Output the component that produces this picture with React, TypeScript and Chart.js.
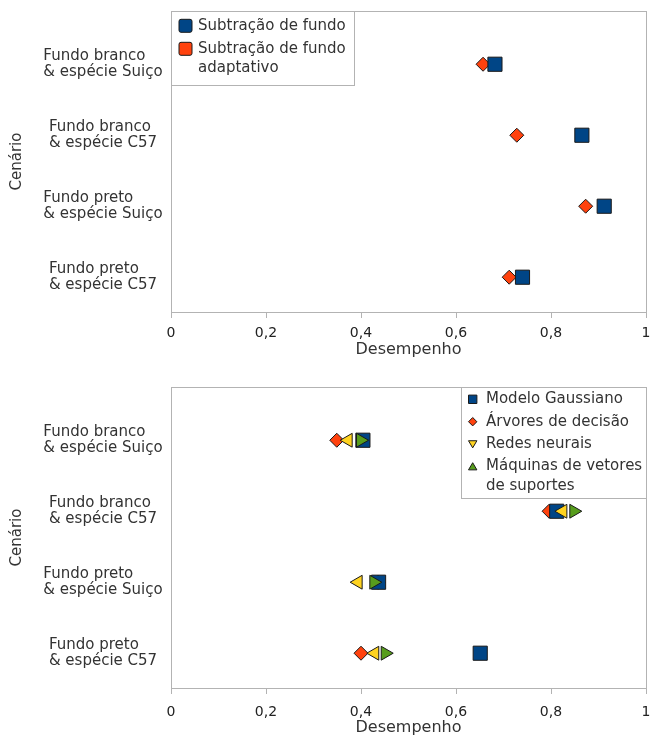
import React, { useEffect, useRef } from 'react';
import { Chart, registerables } from 'chart.js';

Chart.register(...registerables);

const FONT = '"DejaVu Sans", sans-serif';
Chart.defaults.font.family = FONT;

// ---------- data ----------
const categories: string[][] = [
  ['Fundo branco', '& espécie Suiço'],
  ['Fundo branco', '& espécie C57'],
  ['Fundo preto', '& espécie Suiço'],
  ['Fundo preto', '& espécie C57'],
];
const xTickLabels = ['0', '0,2', '0,4', '0,6', '0,8', '1'];
const xTitle = 'Desempenho';
const yTitle = 'Cenário';

// top chart
const subtracaoFundo = [0.682, 0.865, 0.912, 0.74];
const subtracaoAdaptativo = [0.657, 0.728, 0.873, 0.712];

// bottom chart
const modeloGaussiano = [0.404, 0.812, 0.437, 0.651];
const arvoresDecisao = [0.349, 0.796, 0.436, 0.4];
const redesNeurais = [0.373, 0.825, 0.394, 0.429];
const maquinasVetores = [0.399, 0.848, 0.427, 0.451];

const topLegendLabels = [['Subtração de fundo'], ['Subtração de fundo', 'adaptativo']];
const bottomLegendLabels = [
  ['Modelo Gaussiano'],
  ['Árvores de decisão'],
  ['Redes neurais'],
  ['Máquinas de vetores', 'de suportes'],
];

// ---------- styles ----------
const BLUE = '#004586';
const ORANGE = '#ff420e';
const YELLOW = '#ffd320';
const GREEN = '#579d1c';
const EDGE = '#1a1a1a';
const FRAME = '#b3b3b3';
const TEXT = '#333333';

const toPoints = (vals: number[]) => vals.map((x, i) => ({ x, y: categories.length - i }));

function drawMarker(ctx: CanvasRenderingContext2D, shape: string, x: number, y: number, s: number, fill: string) {
  ctx.beginPath();
  if (shape === 'roundSquare') {
    if ((ctx as any).roundRect) (ctx as any).roundRect(x - s, y - s, 2 * s, 2 * s, 2);
    else ctx.rect(x - s, y - s, 2 * s, 2 * s);
  } else if (shape === 'square') {
    ctx.rect(x - s, y - s, 2 * s, 2 * s);
  } else if (shape === 'diamond') {
    ctx.moveTo(x, y - s);
    ctx.lineTo(x + s, y);
    ctx.lineTo(x, y + s);
    ctx.lineTo(x - s, y);
    ctx.closePath();
  } else if (shape === 'triDown') {
    ctx.moveTo(x - s, y - s * 0.8);
    ctx.lineTo(x + s, y - s * 0.8);
    ctx.lineTo(x, y + s * 0.9);
    ctx.closePath();
  } else if (shape === 'triUp') {
    ctx.moveTo(x, y - s * 0.9);
    ctx.lineTo(x + s, y + s * 0.8);
    ctx.lineTo(x - s, y + s * 0.8);
    ctx.closePath();
  }
  ctx.fillStyle = fill;
  ctx.fill();
  ctx.strokeStyle = EDGE;
  ctx.lineWidth = 1;
  ctx.stroke();
}

const framePlugin = {
  id: 'frame',
  beforeDatasetsDraw(chart: any) {
    const { ctx, chartArea } = chart;
    ctx.save();
    ctx.strokeStyle = FRAME;
    ctx.lineWidth = 1;
    ctx.strokeRect(
      Math.round(chartArea.left) + 0.5,
      Math.round(chartArea.top) + 0.5,
      Math.round(chartArea.right - chartArea.left),
      Math.round(chartArea.bottom - chartArea.top)
    );
    ctx.restore();
  },
};

const yLabelPlugin = {
  id: 'yLabels',
  afterDraw(chart: any, _args: any, opts: any) {
    const { ctx, chartArea } = chart;
    const scale = chart.scales.y;
    ctx.save();
    ctx.font = `15px ${FONT}`;
    ctx.fillStyle = TEXT;
    ctx.textBaseline = 'middle';
    ctx.textAlign = 'left';
    categories.forEach((lines, i) => {
      const yc = scale.getPixelForValue(categories.length - i);
      let maxW = 0;
      lines.forEach((l) => (maxW = Math.max(maxW, ctx.measureText(l).width)));
      const x0 = chartArea.left - opts.centerOffset - maxW / 2;
      const n = lines.length;
      lines.forEach((l, j) => ctx.fillText(l, x0, yc + (j - (n - 1) / 2) * opts.lineHeight));
    });
    ctx.restore();
  },
};

const boxLegendPlugin = {
  id: 'boxLegend',
  afterDraw(chart: any, _args: any, opts: any) {
    if (!opts || !opts.items) return;
    const { ctx, chartArea } = chart;
    ctx.save();
    ctx.font = `15px ${FONT}`;
    let maxW = 0;
    opts.items.forEach((it: any) => it.lines.forEach((l: string) => (maxW = Math.max(maxW, ctx.measureText(l).width))));
    const w = Math.round(opts.textOffset + maxW + opts.padRight);
    const centers: number[][] = [];
    let cy = opts.padTop;
    opts.items.forEach((it: any, k: number) => {
      if (k > 0) cy += opts.itemGap;
      const arr: number[] = [];
      it.lines.forEach((_l: string, j: number) => {
        if (j > 0) cy += opts.lineGap;
        arr.push(cy);
      });
      centers.push(arr);
    });
    const h = Math.round(cy + opts.padBottom);
    const left = opts.anchor === 'right' ? Math.round(chartArea.right) - w : Math.round(chartArea.left);
    const top = Math.round(chartArea.top);
    ctx.fillStyle = '#ffffff';
    ctx.fillRect(left, top, w, h);
    ctx.strokeStyle = FRAME;
    ctx.lineWidth = 1;
    ctx.strokeRect(left + 0.5, top + 0.5, w, h);
    ctx.textBaseline = 'middle';
    ctx.textAlign = 'left';
    opts.items.forEach((it: any, k: number) => {
      drawMarker(ctx, it.shape, left + opts.markerOffset, top + centers[k][0] + (opts.markerDy || 0), opts.markerSize, it.color);
      ctx.fillStyle = TEXT;
      it.lines.forEach((l: string, j: number) => ctx.fillText(l, left + opts.textOffset, top + centers[k][j]));
    });
    ctx.restore();
  },
};

function makeConfig(datasets: any[], legend: any, tickPad: number, titlePad: number) {
  return {
    type: 'scatter',
    data: { datasets },
    plugins: [framePlugin, yLabelPlugin, boxLegendPlugin],
    options: {
      responsive: false,
      animation: false,
      events: [],
      layout: { autoPadding: false, padding: { top: 11, right: 7, left: 0, bottom: 0 } },
      plugins: {
        legend: { display: false },
        tooltip: { enabled: false },
        yLabels: { centerOffset: 68, lineHeight: 16 },
        boxLegend: legend,
      },
      scales: {
        x: {
          type: 'linear',
          position: 'bottom',
          min: 0,
          max: 1,
          ticks: {
            stepSize: 0.2,
            callback: (_v: any, i: number) => xTickLabels[i],
            font: { size: 14 },
            color: '#222222',
            padding: tickPad,
            maxRotation: 0,
          },
          grid: { display: true, drawOnChartArea: false, drawTicks: true, tickLength: 6, color: FRAME },
          border: { display: true, color: FRAME },
          title: {
            display: true,
            text: xTitle,
            font: { size: 16 },
            color: TEXT,
            padding: { top: 0, bottom: titlePad },
          },
          afterFit: (s: any) => {
            s.height = 57;
            s.paddingLeft = 0;
            s.paddingRight = 0;
          },
        },
        y: {
          type: 'linear',
          min: 0.51,
          max: 4.75,
          ticks: { display: false },
          grid: { display: false },
          border: { display: false },
          title: {
            display: true,
            text: yTitle,
            font: { size: 15 },
            color: TEXT,
            padding: { top: 8.5, bottom: 0 },
          },
          afterFit: (s: any) => {
            s.width = 171;
            s.paddingTop = 0;
            s.paddingBottom = 0;
          },
        },
      },
    },
  };
}

function ds(label: string, vals: number[], color: string, style: string, radius: number, rotation: number, order: number) {
  return {
    label,
    data: toPoints(vals),
    pointStyle: style,
    pointRadius: radius,
    pointHoverRadius: radius,
    pointRotation: rotation,
    pointBackgroundColor: color,
    pointBorderColor: EDGE,
    pointBorderWidth: 1,
    backgroundColor: color,
    borderColor: EDGE,
    showLine: false,
    order,
  };
}

export default function App() {
  const topRef = useRef<HTMLCanvasElement>(null);
  const botRef = useRef<HTMLCanvasElement>(null);

  useEffect(() => {
    const topDatasets = [
      ds(topLegendLabels[0].join(' '), subtracaoFundo, BLUE, 'rect', 10, 0, 1),
      ds(topLegendLabels[1].join(' '), subtracaoAdaptativo, ORANGE, 'rectRot', 7, 0, 2),
    ];
    const botDatasets = [
      ds(bottomLegendLabels[0].join(' '), modeloGaussiano, BLUE, 'rect', 10, 0, 3),
      ds(bottomLegendLabels[1].join(' '), arvoresDecisao, ORANGE, 'rectRot', 7, 0, 4),
      ds(bottomLegendLabels[2].join(' '), redesNeurais, YELLOW, 'triangle', 8, -90, 2),
      ds(bottomLegendLabels[3].join(' '), maquinasVetores, GREEN, 'triangle', 8, 90, 1),
    ];
    const topLegend = {
      anchor: 'left',
      items: [
        { lines: topLegendLabels[0], shape: 'roundSquare', color: BLUE },
        { lines: topLegendLabels[1], shape: 'roundSquare', color: ORANGE },
      ],
      markerOffset: 14.5,
      markerSize: 6.5,
      markerDy: -0.5,
      textOffset: 27,
      padRight: 8,
      padTop: 15.3,
      padBottom: 17,
      itemGap: 23,
      lineGap: 19,
    };
    const botLegend = {
      anchor: 'right',
      items: [
        { lines: bottomLegendLabels[0], shape: 'square', color: BLUE },
        { lines: bottomLegendLabels[1], shape: 'diamond', color: ORANGE },
        { lines: bottomLegendLabels[2], shape: 'triDown', color: YELLOW },
        { lines: bottomLegendLabels[3], shape: 'triUp', color: GREEN },
      ],
      markerOffset: 11.7,
      markerSize: 4.2,
      markerDy: 0,
      textOffset: 25,
      padRight: 4,
      padTop: 12.3,
      padBottom: 11.7,
      itemGap: 22.4,
      lineGap: 19.3,
    };
    const c1 = new Chart(topRef.current as HTMLCanvasElement, makeConfig(topDatasets, topLegend, 7.4, 9.7) as any);
    const c2 = new Chart(botRef.current as HTMLCanvasElement, makeConfig(botDatasets, botLegend, 9.9, 7.9) as any);
    return () => {
      c1.destroy();
      c2.destroy();
    };
  }, []);

  return (
    <div style={{ position: 'absolute', left: 0, top: 0, width: 653, height: 745, background: '#ffffff', overflow: 'hidden' }}>
      <canvas ref={topRef} width={653} height={369} style={{ position: 'absolute', left: 0, top: 0 }} />
      <canvas ref={botRef} width={653} height={369} style={{ position: 'absolute', left: 0, top: 376 }} />
    </div>
  );
}
